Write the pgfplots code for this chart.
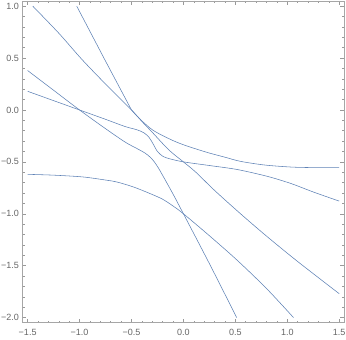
\documentclass[border=0pt]{standalone}
\usepackage{pgfplots}
\pgfplotsset{compat=1.18}
\usepackage{fontspec}
\setmainfont{Liberation Sans}
\definecolor{mcurve}{RGB}{94,129,181}
\begin{document}
\begin{tikzpicture}
\begin{axis}[
  scale only axis, width=321.4pt, height=321.2pt,
  xmin=-1.55, xmax=1.55, ymin=-2.05, ymax=1.05,
  axis line style={black!35, line width=0.6pt},
  xtick={-1.5,-1,-0.5,0,0.5,1,1.5},
  xticklabels={−1.5,−1.0,−0.5,0.0,0.5,1.0,1.5},
  ytick={-2,-1.5,-1,-0.5,0,0.5,1},
  yticklabels={−2.0,−1.5,−1.0,−0.5,0.0,0.5,1.0},
  minor tick num=4,
  tick align=inside,
  major tick length=4pt, minor tick length=2.2pt,
  tick style={black!40, line width=0.5pt},
  ticklabel style={font=\fontsize{9}{10}\selectfont, text=black!60},
  xticklabel style={yshift=-2.5pt},
  curve/.style={mcurve, line width=0.55pt, no marks},
]
\addplot[curve, smooth] coordinates {(-1.45,1.0) (-1.2,0.74) (-0.98,0.49) (-0.75,0.25) (-0.5,0) (-0.4,-0.11) (-0.3,-0.215) (-0.14,-0.385) (0,-0.5) (0.12,-0.6) (0.3,-0.775) (0.55,-1.0) (0.8,-1.215) (1.1,-1.46) (1.5,-1.77)};
\addplot[curve, sharp plot] coordinates {(-1.027,1.0) (-0.76,0.49) (-0.5,0)};
\addplot[curve, smooth] coordinates {(-0.5,0) (-0.45,-0.055) (-0.4,-0.105) (-0.35,-0.15) (-0.3,-0.19) (-0.24,-0.226) (-0.1,-0.295) (0,-0.335) (0.12,-0.375) (0.25,-0.415) (0.4,-0.455) (0.55,-0.495) (0.78,-0.53) (1.04,-0.55) (1.25,-0.555) (1.5,-0.555)};
\addplot[curve, smooth] coordinates {(-1.5,0.38) (-1.25,0.19) (-1,0) (-0.75,-0.18) (-0.56,-0.31) (-0.45,-0.37) (-0.37,-0.415) (-0.32,-0.455) (-0.28,-0.5) (-0.24,-0.56) (-0.2,-0.63) (-0.1,-0.81) (0,-1) (0.25,-1.48) (0.513,-2.0)};
\addplot[curve, smooth] coordinates {(-1.5,0.18) (-1.25,0.09) (-1,0) (-0.75,-0.09) (-0.56,-0.16) (-0.45,-0.19) (-0.38,-0.22) (-0.33,-0.265) (-0.29,-0.33) (-0.25,-0.40) (-0.2,-0.445) (-0.14,-0.468) (0,-0.5) (0.25,-0.535) (0.52,-0.574) (0.81,-0.64) (1.04,-0.71) (1.25,-0.79) (1.5,-0.878)};
\addplot[curve, smooth] coordinates {(-1.5,-0.62) (-1.25,-0.628) (-0.97,-0.645) (-0.75,-0.675) (-0.64,-0.694) (-0.48,-0.742) (-0.32,-0.806) (-0.2,-0.86) (-0.1,-0.925) (0,-1.0) (0.26,-1.22) (0.52,-1.45) (0.8,-1.72) (1.06,-2.0)};
\end{axis}
\pgfresetboundingbox
\path[use as bounding box] ([xshift=-22.4pt,yshift=-16.8pt]current axis.south west) rectangle ([xshift=1.6pt,yshift=1pt]current axis.north east);
\end{tikzpicture}
\end{document}
